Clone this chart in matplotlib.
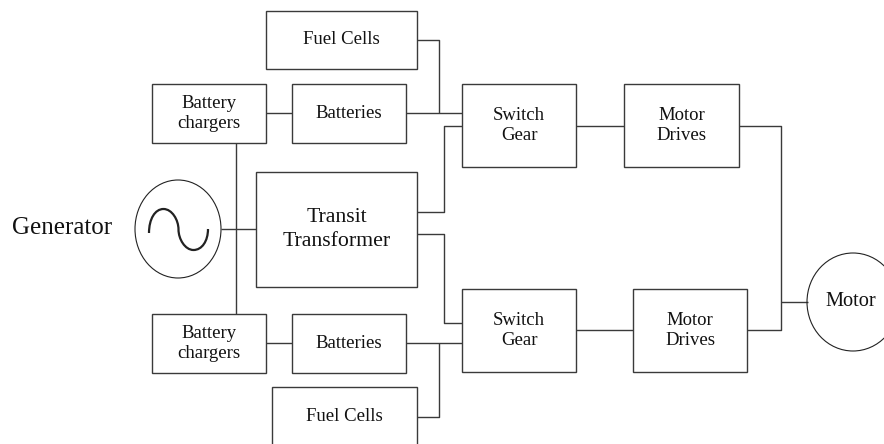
import matplotlib
matplotlib.use("Agg")
import matplotlib.pyplot as plt
from matplotlib.patches import Rectangle, Ellipse, PathPatch
from matplotlib.path import Path

plt.rcParams['font.family'] = ['Liberation Serif', 'DejaVu Serif']

# Block labels
labels = ['Fuel Cells', 'Battery\nchargers', 'Batteries', 'Transit\nTransformer',
          'Switch\nGear', 'Motor\nDrives',
          'Battery\nchargers', 'Batteries', 'Fuel Cells', 'Switch\nGear', 'Motor\nDrives']
label_sizes = [13.5, 13.5, 13.5, 15.7, 13.5, 13.5, 13.5, 13.5, 13.5, 13.5, 13.5]

# Block extents in pixel coordinates (x0, y0, x1, y1), y measured from top
blocks = [(266, 11, 417, 69), (152, 84, 266, 143), (292, 84, 406, 143), (256, 172, 417, 287),
          (462, 84, 576, 167), (624, 84, 739, 167),
          (152, 314, 266, 373), (292, 314, 406, 373), (272, 387, 417, 452),
          (462, 289, 576, 372), (633, 289, 747, 372)]

# Wires as polylines
wires = [
    [(266, 113), (292, 113)],
    [(406, 113), (462, 113)],
    [(417, 40), (439, 40), (439, 113)],
    [(417, 212), (444, 212), (444, 126), (462, 126)],
    [(576, 126), (624, 126)],
    [(739, 126), (781, 126), (781, 330), (747, 330)],
    [(781, 302), (808, 302)],
    [(576, 330), (633, 330)],
    [(221, 229), (256, 229)],
    [(236, 143), (236, 314)],
    [(266, 343), (292, 343)],
    [(406, 343), (462, 343)],
    [(417, 417), (439, 417), (439, 343)],
    [(417, 234), (444, 234), (444, 323), (462, 323)],
]

line_col = '#3a3a3a'
text_col = '#111111'

fig = plt.figure(figsize=(8.84, 4.44), dpi=100)
ax = fig.add_axes([0, 0, 1, 1])
ax.set_xlim(0, 884)
ax.set_ylim(444, 0)
ax.axis('off')

for wire in wires:
    xs = [p[0] for p in wire]
    ys = [p[1] for p in wire]
    ax.plot(xs, ys, color=line_col, lw=1.0, solid_capstyle='butt')

for (x0, y0, x1, y1), lab, fs in zip(blocks, labels, label_sizes):
    ax.add_patch(Rectangle((x0, y0), x1 - x0, y1 - y0, fill=True, facecolor='white',
                           edgecolor=line_col, lw=1.0, zorder=3))
    ty = (y0 + y1) / 2
    if y1 > 444:
        ty = 416
    ax.text((x0 + x1) / 2, ty, lab, ha='center', va='center', fontsize=fs,
            color=text_col, linespacing=1.3, zorder=4)

# Generator symbol
ax.add_patch(Ellipse((178, 229), 86, 98, fill=False, edgecolor='#222222', lw=0.8, zorder=3))
verts = [(149, 233), (149, 219), (155, 209), (163.5, 209),
         (172, 209), (178.5, 220), (178.5, 229.5),
         (178.5, 239), (185, 250), (193.5, 250),
         (202, 250), (208, 241), (208, 229)]
codes = [Path.MOVETO] + [Path.CURVE4] * 12
ax.add_patch(PathPatch(Path(verts, codes), fill=False, edgecolor='#222222', lw=1.6, zorder=3))
ax.text(62, 228, 'Generator', ha='center', va='center', fontsize=18, color=text_col)

# Motor
ax.add_patch(Ellipse((853, 302), 92, 98, fill=False, edgecolor='#222222', lw=0.8, zorder=3))
ax.text(851, 301, 'Motor', ha='center', va='center', fontsize=14.7, color=text_col, zorder=4)

fig.savefig('out.png', dpi=100)
